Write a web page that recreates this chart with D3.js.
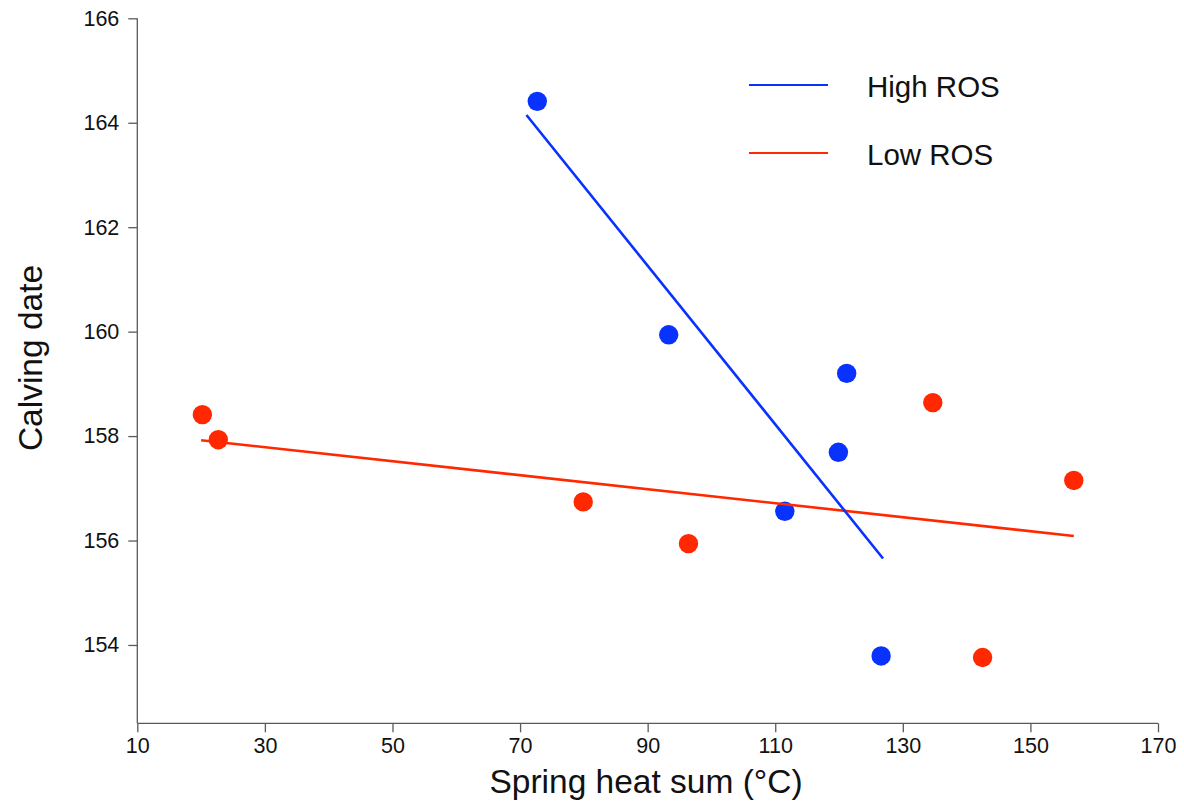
<!DOCTYPE html>
<html>
<head>
<meta charset="utf-8">
<script src="https://cdn.jsdelivr.net/npm/d3@7/dist/d3.min.js"></script>
<style>
  html, body { margin: 0; padding: 0; background: #fff; }
  svg { display: block; font-family: "Liberation Sans", Arial, sans-serif; }
</style>
</head>
<body>
<svg id="chart" width="1184" height="803"></svg>
<script>
// Spring heat sum (°C) vs calving date, by rain-on-snow (ROS) group
const highHeat = [72.7, 93.3, 121.2, 119.9, 111.5, 126.6];
const highDate = [164.41, 159.94, 159.20, 157.69, 156.56, 153.79];
const lowHeat = [20.2, 22.7, 79.9, 96.4, 134.7, 142.5, 156.8];
const lowDate = [158.41, 157.93, 156.74, 155.94, 158.64, 153.76, 157.15];

// heat-sum span over which each fitted line is drawn
const highFitSpan = [71.0, 126.9];
const lowFitSpan = [20.0, 156.8];

const xTicks = [10, 30, 50, 70, 90, 110, 130, 150, 170];
const yTicks = [154, 156, 158, 160, 162, 164, 166];
const groupNames = ["High ROS", "Low ROS"];
const groupColors = ["#0a32ff", "#ff2800"];

const svg = d3.select("#chart");
const margin = { left: 137.3, right: 1158, top: 18.3, bottom: 723.3 };

const x = d3.scaleLinear().domain([10, 170]).range([margin.left, margin.right]);
const y = d3.scaleLinear().domain([152.5, 166]).range([margin.bottom, margin.top]);

// Least-squares fit evaluated at the ends of the given span
function fit(xs, ys, span) {
  const mx = d3.mean(xs), my = d3.mean(ys);
  let sxy = 0, sxx = 0;
  xs.forEach((v, i) => { sxy += (v - mx) * (ys[i] - my); sxx += (v - mx) * (v - mx); });
  const b = sxy / sxx, a = my - b * mx;
  return span.map(v => [v, a + b * v]);
}

const groups = [
  { name: groupNames[0], color: groupColors[0], xs: highHeat, ys: highDate, span: highFitSpan },
  { name: groupNames[1], color: groupColors[1], xs: lowHeat, ys: lowDate, span: lowFitSpan }
];

// Axes
const axisColor = "#5a5a5a";
const xAxis = svg.append("g")
  .attr("transform", `translate(0,${margin.bottom})`)
  .call(d3.axisBottom(x).tickValues(xTicks).tickFormat(d3.format("d")).tickSize(9).tickPadding(5));
const yAxis = svg.append("g")
  .attr("transform", `translate(${margin.left},0)`)
  .call(d3.axisLeft(y).tickValues(yTicks).tickFormat(d3.format("d")).tickSize(9).tickPadding(9));

[xAxis, yAxis].forEach(g => {
  g.attr("font-size", null).attr("font-family", null);
  g.select(".domain").attr("stroke", axisColor).attr("stroke-width", 1.3);
  g.selectAll(".tick line").attr("stroke", axisColor).attr("stroke-width", 1.3);
  g.selectAll(".tick text").attr("fill", "#111").style("font-size", "21.5px")
    .style("font-family", "'Liberation Sans', Arial, sans-serif");
});
yAxis.select(".domain").attr("d", `M0,${margin.bottom}V${margin.top}`);
xAxis.select(".domain").attr("d", `M${margin.left},0H${margin.right}`);

// Points
groups.forEach(g => {
  svg.append("g").selectAll("circle")
    .data(g.xs.map((v, i) => [v, g.ys[i]]))
    .join("circle")
    .attr("cx", d => x(d[0]))
    .attr("cy", d => y(d[1]))
    .attr("r", 9.7)
    .attr("fill", g.color);
});

// Regression lines (low first, high on top)
[groups[1], groups[0]].forEach(g => {
  const seg = fit(g.xs, g.ys, g.span);
  svg.append("line")
    .attr("x1", x(seg[0][0])).attr("y1", y(seg[0][1]))
    .attr("x2", x(seg[1][0])).attr("y2", y(seg[1][1]))
    .attr("stroke", g.color).attr("stroke-width", 2.6);
});

// Legend
const legend = svg.append("g").attr("transform", "translate(749,85)");
groups.forEach((g, i) => {
  const row = legend.append("g").attr("transform", `translate(0,${i * 68})`);
  row.append("line").attr("x1", 0).attr("x2", 79).attr("y1", 0).attr("y2", 0)
    .attr("stroke", g.color).attr("stroke-width", 2.2);
  row.append("text").attr("x", 118).attr("y", 12)
    .style("font-size", "29.5px").attr("fill", "#111").text(g.name);
});

// Axis titles
svg.append("text")
  .attr("x", 646).attr("y", 793)
  .attr("text-anchor", "middle")
  .style("font-size", "33.5px").attr("fill", "#111")
  .text("Spring heat sum (°C)");

svg.append("text")
  .attr("transform", "translate(41.5,358) rotate(-90)")
  .attr("text-anchor", "middle")
  .style("font-size", "33.5px").attr("fill", "#111")
  .text("Calving date");
</script>
</body>
</html>
